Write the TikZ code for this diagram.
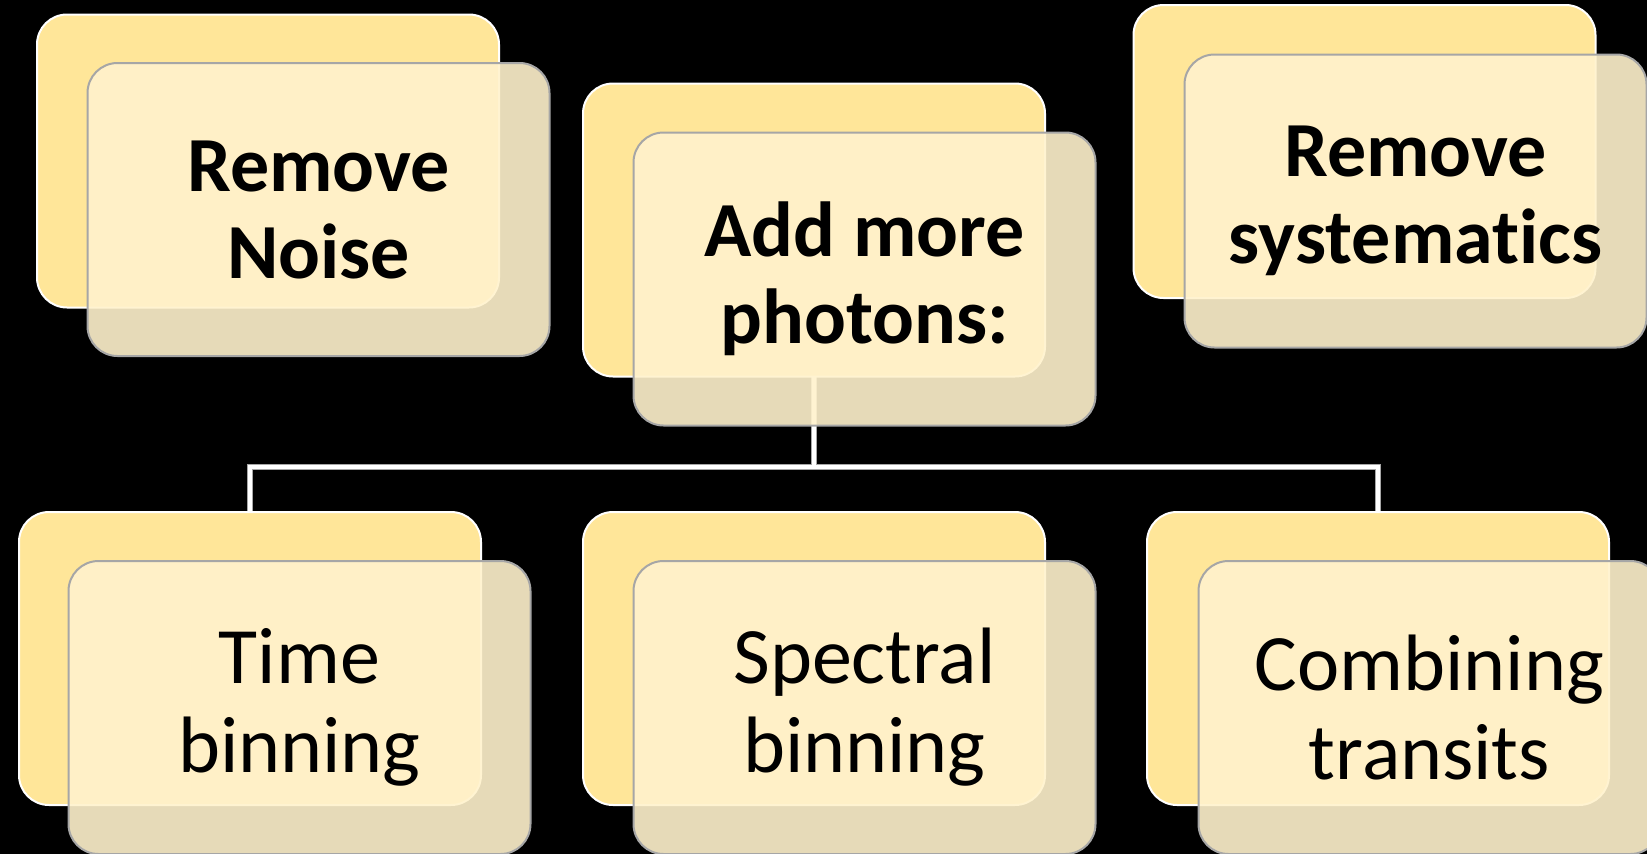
\documentclass[tikz,border=0pt]{standalone}
\usepackage{fontspec}
\setmainfont{Carlito}[Ligatures={NoCommon}]
\definecolor{backyellow}{HTML}{FFE699}
\definecolor{frontcream}{HTML}{FFF2CC}
\definecolor{frontgray}{HTML}{A6A6A6}
\begin{document}
\begin{tikzpicture}[x=1pt,y=-1pt,
  backbox/.style={draw=white, line width=2pt, fill=backyellow, rounded corners=30pt,
    minimum width=462pt, minimum height=293pt, inner sep=0pt},
  frontbox/.style={draw=frontgray, line width=2pt, fill=frontcream, fill opacity=0.9,
    text opacity=1, rounded corners=30pt, minimum width=462pt, minimum height=293pt,
    inner sep=0pt, align=center, text=black},
  toptext/.style={font=\fontsize{78}{87}\selectfont\bfseries},
  bottext/.style={font=\fontsize{80}{89}\selectfont},
  connedge/.style={draw=frontgray, line width=5.5pt},
  conn/.style={draw=white, line width=4pt}]
\fill[black] (0,0) rectangle (1647,854);
\useasboundingbox (0,0) rectangle (1647,854);
% connectors (behind boxes)
\coordinate (hub) at (814,467);
\coordinate (bsrc) at (814,230);
\coordinate (dtop) at (250,512);
\coordinate (ftop) at (1378,512);
\draw[connedge] (bsrc) -- (hub);
\draw[connedge] (dtop) |- (hub) -| (ftop);
\draw[conn] (bsrc) -- (hub);
\draw[conn] (dtop) |- (hub) -| (ftop);
% back boxes
\node[backbox] (Ab) at (268,161) {};
\node[backbox] (Bb) at (814,230) {};
\node[backbox] (Cb) at (1364.5,151.5) {};
\node[backbox] (Db) at (250,658.5) {};
\node[backbox] (Eb) at (814,658.5) {};
\node[backbox] (Fb) at (1378,658.5) {};
% front boxes
\node[frontbox, toptext] (Af) at (318.5,209.5) {Remove\\Noise};
\node[frontbox, toptext] (Bf) at (864.5,279) {Add more\\photons:};
\node[frontbox, toptext] (Cf) at (1415.5,201) {Remove\\systematics};
\node[frontbox, bottext] (Df) at (299.5,707.5) {Time\\binning};
\node[frontbox, bottext] (Ef) at (864.5,707.5) {Spectral\\binning};
\node[frontbox, bottext] (Ff) at (1429.5,707.5) {Combining\\transits};
\end{tikzpicture}
\end{document}
